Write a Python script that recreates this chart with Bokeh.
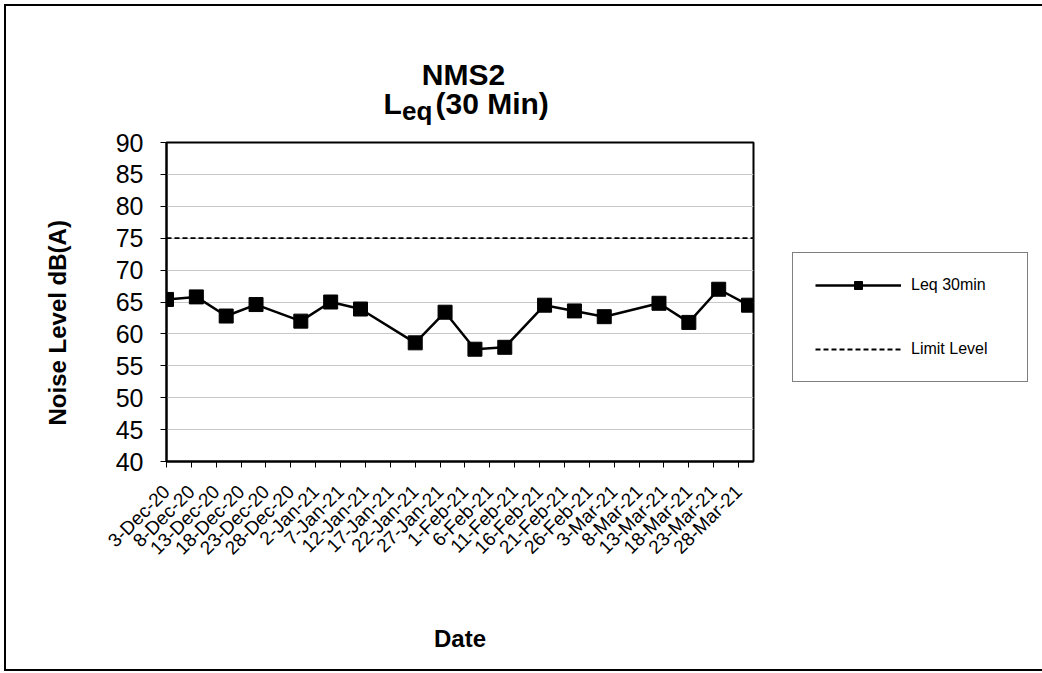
import math
import pandas as pd
from bokeh.plotting import figure
from bokeh.layouts import column
from bokeh.models import (Range1d, FixedTicker, Label, Legend, LegendItem, Title)
from bokeh.embed import file_html
from bokeh.resources import INLINE

# ---------------- data ----------------
DATES = ["2020-12-03", "2020-12-09", "2020-12-15", "2020-12-21", "2020-12-30",
         "2021-01-05", "2021-01-11", "2021-01-22", "2021-01-28", "2021-02-03",
         "2021-02-09", "2021-02-17", "2021-02-23", "2021-03-01", "2021-03-12",
         "2021-03-18", "2021-03-24", "2021-03-30"]
LEQ_30MIN = [65.4, 65.8, 62.8, 64.6, 62.0, 65.0, 63.9, 58.6, 63.4, 57.6,
             57.9, 64.5, 63.6, 62.7, 64.8, 61.8, 67.0, 64.5]
LIMIT_LEVEL = 75
TICK_LABELS = ["3-Dec-20", "8-Dec-20", "13-Dec-20", "18-Dec-20", "23-Dec-20",
               "28-Dec-20", "2-Jan-21", "7-Jan-21", "12-Jan-21", "17-Jan-21",
               "22-Jan-21", "27-Jan-21", "1-Feb-21", "6-Feb-21", "11-Feb-21",
               "16-Feb-21", "21-Feb-21", "26-Feb-21", "3-Mar-21", "8-Mar-21",
               "13-Mar-21", "18-Mar-21", "23-Mar-21", "28-Mar-21"]
X_START = "2020-12-03"
X_END = "2021-03-31"
Y_TICKS = [40, 45, 50, 55, 60, 65, 70, 75, 80, 85, 90]

# ---------------- derived ----------------
t0 = pd.Timestamp(X_START)
x_days = [(pd.Timestamp(d) - t0).days for d in DATES]
tick_days = [(pd.to_datetime(s, format="%d-%b-%y") - t0).days for s in TICK_LABELS]
x_end = (pd.Timestamp(X_END) - t0).days

FONT = "Liberation Sans"
TITLE_H = 127
BL, BR = 166, 287
FW, FH = 587, 319

x_range = Range1d(0, x_end)

# ---------------- title strip ----------------
tf = figure(frame_width=FW, frame_height=TITLE_H, output_backend="svg",
            toolbar_location=None, x_range=x_range, y_range=Range1d(0, 1),
            min_border_left=BL, min_border_right=BR, min_border_top=0,
            min_border_bottom=0, x_axis_location=None, y_axis_location=None)
tf.grid.grid_line_color = None
tf.outline_line_color = None
tf.background_fill_color = None
tf.border_fill_color = None
mid = x_end / 2
TKW = dict(text_font=FONT, text_font_style="bold", text_color="black",
           text_baseline="alphabetic")
tf.add_layout(Label(x=mid, y=0, x_offset=3.5, y_offset=52.7, text="NMS2",
                    text_font_size="30px", text_align="center", **TKW))
tf.add_layout(Label(x=mid, y=0, x_offset=-76.5, y_offset=23.7, text="L",
                    text_font_size="30px", text_align="left", **TKW))
tf.add_layout(Label(x=mid, y=0, x_offset=-58, y_offset=17, text="eq",
                    text_font_size="26px", text_align="left", **TKW))
tf.add_layout(Label(x=mid, y=0, x_offset=-24.5, y_offset=23.7, text="(30 Min)",
                    text_font_size="30px", text_align="left", **TKW))

# ---------------- main chart ----------------
p = figure(frame_width=FW, frame_height=FH, output_backend="svg",
           toolbar_location=None,
           x_range=x_range, y_range=Range1d(Y_TICKS[0], Y_TICKS[-1]),
           min_border_left=BL, min_border_right=BR, min_border_top=15,
           min_border_bottom=210)
p.background_fill_color = "white"
p.border_fill_color = None
p.outline_line_color = "black"
p.outline_line_width = 2

p.xaxis.ticker = FixedTicker(ticks=tick_days)
p.xaxis.major_label_overrides = {d: s for d, s in zip(tick_days, TICK_LABELS)}
p.xaxis.major_label_orientation = math.pi / 4
p.xaxis.major_label_text_font = FONT
p.xaxis.major_label_text_font_size = "19px"
p.xaxis.major_label_standoff = 21
p.xaxis.axis_label = "Date"
p.xaxis.axis_label_text_font = FONT
p.xaxis.axis_label_text_font_size = "24px"
p.xaxis.axis_label_text_font_style = "bold"
p.xaxis.axis_label_text_color = "black"
p.xaxis.axis_label_standoff = 56

p.yaxis.ticker = FixedTicker(ticks=Y_TICKS)
p.yaxis.major_label_text_font = FONT
p.yaxis.major_label_text_font_size = "25px"
p.yaxis.major_label_standoff = 17
for ax in (p.xaxis, p.yaxis):
    ax.axis_line_color = "black"
    ax.axis_line_width = 2
    ax.major_tick_line_color = "black"
    ax.major_tick_line_width = 1
    ax.major_tick_out = 6
    ax.major_tick_in = 0
    ax.minor_tick_line_color = None
    ax.major_label_text_color = "black"

p.add_layout(Title(text="Noise Level dB(A)", align="left", offset=36,
                   standoff=83, text_font=FONT, text_font_size="24px",
                   text_font_style="bold", text_color="black"), "left")

p.xgrid.grid_line_color = None
p.ygrid.grid_line_color = "#c8c8c8"
p.ygrid.grid_line_width = 1

limit_r = p.line([0, x_end], [LIMIT_LEVEL, LIMIT_LEVEL], line_color="black",
                 line_width=1.8, line_dash="5 3")
leq_line = p.line(x_days, LEQ_30MIN, line_color="black", line_width=2.5)
leq_pts = p.scatter(x_days, LEQ_30MIN, marker="square", size=14,
                    fill_color="black", line_color="black")

legend = Legend(items=[LegendItem(label="Leq 30min", renderers=[leq_line, leq_pts]),
                       LegendItem(label="Limit Level", renderers=[limit_r])],
                location=(39, 79), orientation="vertical", margin=0,
                padding=22, spacing=44, glyph_width=86, glyph_height=20,
                label_height=20, label_standoff=10, label_width=94,
                label_text_font=FONT, label_text_font_size="16px",
                label_text_color="black",
                border_line_color="black", border_line_width=1,
                background_fill_color="white", background_fill_alpha=1.0)
p.add_layout(legend, "right")

col = column(tf, p, spacing=0)
col.styles = {"background-color": "white",
              "box-shadow": "inset 4px 4px 0 0 #fff, inset 6px 6px 0 0 #000, "
                            "inset 0 -2px 0 0 #000"}

open("out.html", "w").write(file_html(col, INLINE))
